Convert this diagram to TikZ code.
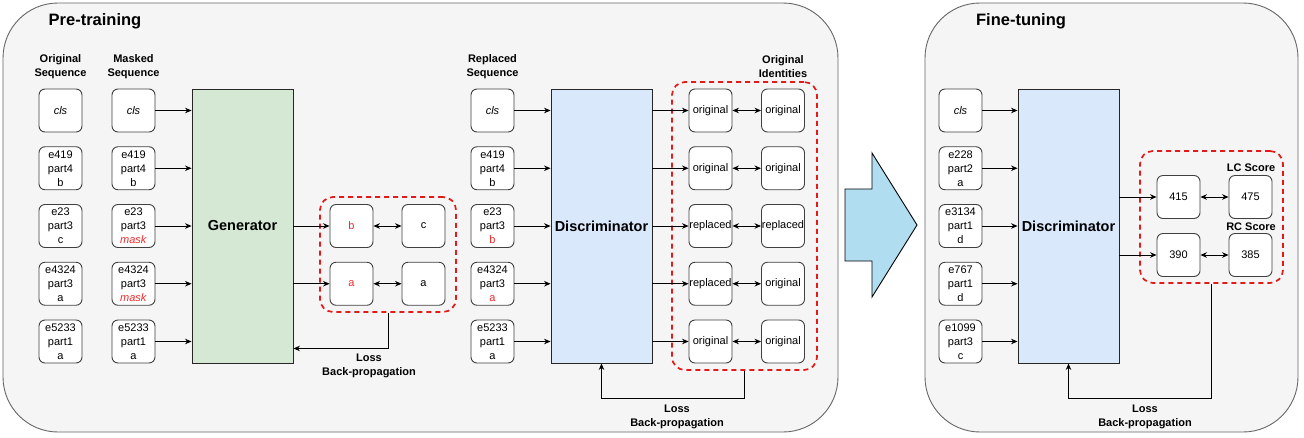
\documentclass[tikz,border=0pt]{standalone}
\usepackage{fontspec}
\setmainfont{Liberation Sans}
\usetikzlibrary{arrows.meta}

\definecolor{panelfill}{HTML}{F5F5F5}
\definecolor{panelline}{HTML}{666666}
\definecolor{genfill}{HTML}{D5E8D4}
\definecolor{discfill}{HTML}{DAE8FC}
\definecolor{bigarrow}{HTML}{B1DDF0}
\definecolor{dashred}{HTML}{E31A1A}
\definecolor{txtred}{HTML}{EE2C2C}

\begin{document}
\begin{tikzpicture}[x=1pt,y=-1pt,
    panel/.style={draw=panelline, fill=panelfill, rounded corners=55pt, line width=0.9pt},
    title/.style={font=\bfseries\fontsize{16.5}{18}\selectfont},
    hdr/.style={font=\bfseries\fontsize{11}{14}\selectfont, align=center},
    tok/.style={draw=black!75, fill=white, rounded corners=6pt, line width=0.9pt,
        minimum width=43pt, minimum height=43pt, inner sep=0pt, align=center,
        font=\fontsize{11}{14}\selectfont},
    model/.style={draw=black!85, line width=0.9pt, minimum width=101pt, minimum height=274pt,
        font=\bfseries\fontsize{14.5}{16}\selectfont},
    grp/.style={draw=dashred, line width=1.7pt, dash pattern=on 5pt off 4pt, rounded corners=13pt},
    arr/.style={-{Stealth[length=6.5pt,width=5.5pt]}, line width=0.9pt},
    darr/.style={{Stealth[length=6.5pt,width=5.5pt]}-{Stealth[length=6.5pt,width=5.5pt]}, line width=0.9pt},
    lbl/.style={font=\bfseries\fontsize{11}{14}\selectfont, align=center}]
    \useasboundingbox (0,0) rectangle (1304,437);

    % Cadres
    \draw[panel] (3,3) rectangle (838,432);
    \draw[panel] (925,3) rectangle (1298,432);
    \node[title] (pretitle) at (95,21) {Pre-training};
    \node[title] (finetitle) at (1021,21) {Fine-tuning};

    % Pre-training : sequences et generateur
    \node[hdr] (hdro) at (60.5,67) {Original\\Sequence};
    \node[hdr] (hdrm) at (133.5,67) {Masked\\Sequence};
    \foreach \i/\y/\o/\m in {1/110.5/{\textit{cls}}/{\textit{cls}},
        2/168.25/{e419\\part4\\b}/{e419\\part4\\b},
        3/226/{e23\\part3\\c}/{e23\\part3\\\textcolor{txtred}{\textit{mask}}},
        4/283.75/{e4324\\part3\\a}/{e4324\\part3\\\textcolor{txtred}{\textit{mask}}},
        5/341.5/{e5233\\part1\\a}/{e5233\\part1\\a}} {
        \node[tok] (o\i) at (60.5,\y) {\o};
        \node[tok] (m\i) at (133.5,\y) {\m};
    }
    \node[model, fill=genfill] (gen) at (242.5,226) {Generator};
    \foreach \i in {1,...,5} {
        \draw[arr] (m\i) -- (m\i -| gen.west);
    }

    % Predictions du generateur
    \node[tok] (p1) at (351.5,226) {\textcolor{txtred}{b}};
    \node[tok] (q1) at (423.5,226) {c};
    \node[tok] (p2) at (351.5,283.75) {\textcolor{txtred}{a}};
    \node[tok] (q2) at (423.5,283.75) {a};
    \node[grp, minimum width=136pt, minimum height=115pt] (g1) at (388,254.5) {};
    \foreach \i in {1,2} {
        \draw[arr] (gen.east |- p\i) -- (p\i);
        \draw[darr] (p\i) -- (q\i);
    }
    \draw[arr] (g1.south) |- ([yshift=15pt]gen.south east);
    \node[lbl] (loss1) at (369,366) {Loss\\Back-propagation};

    % Pre-training : discriminateur
    \node[hdr] (hdrr) at (492.5,67) {Replaced\\Sequence};
    \node[hdr] (hdri) at (783,67) {Original\\Identities};
    \foreach \i/\y/\r/\a/\b in {1/110.5/{\textit{cls}}/original/original,
        2/168.25/{e419\\part4\\b}/original/original,
        3/226/{e23\\part3\\\textcolor{txtred}{b}}/replaced/replaced,
        4/283.75/{e4324\\part3\\\textcolor{txtred}{a}}/replaced/original,
        5/341.5/{e5233\\part1\\a}/original/original} {
        \node[tok] (r\i) at (492.5,\y) {\r};
        \node[tok] (i\i) at (710.5,\y) {\a};
        \node[tok] (j\i) at (783,\y) {\b};
    }
    \node[model, fill=discfill] (disc1) at (601.5,226) {Discriminator};
    \node[grp, minimum width=145pt, minimum height=288pt] (g2) at (744.5,226) {};
    \foreach \i in {1,...,5} {
        \draw[arr] (r\i) -- (r\i -| disc1.west);
        \draw[arr] (disc1.east |- i\i) -- (i\i);
        \draw[darr] (i\i) -- (j\i);
    }
    \draw[arr] (g2.south) -- ++(0,28) -| (disc1.south);
    \node[lbl] (loss2) at (677,417) {Loss\\Back-propagation};

    % Fleche vers le fine-tuning
    \draw[fill=bigarrow, line width=0.9pt] (845,189) -- (872,189) -- (872,153) -- (917,225)
        -- (872,297) -- (872,261) -- (845,261) -- cycle;

    % Fine-tuning
    \foreach \i/\y/\f in {1/110.5/{\textit{cls}},
        2/168.25/{e228\\part2\\a},
        3/226/{e3134\\part1\\d},
        4/283.75/{e767\\part1\\d},
        5/341.5/{e1099\\part3\\c}} {
        \node[tok] (f\i) at (960.5,\y) {\f};
    }
    \node[model, fill=discfill] (disc2) at (1068.5,226) {Discriminator};
    \foreach \i in {1,...,5} {
        \draw[arr] (f\i) -- (f\i -| disc2.west);
    }
    \node[tok] (s1) at (1178.5,197) {415};
    \node[tok] (t1) at (1250.5,197) {475};
    \node[tok] (s2) at (1178.5,255) {390};
    \node[tok] (t2) at (1250.5,255) {385};
    \node[lbl] (lc) at (1251,168) {LC Score};
    \node[lbl] (rc) at (1251,227) {RC Score};
    \node[grp, minimum width=143pt, minimum height=132pt] (g3) at (1211.5,217) {};
    \foreach \i in {1,2} {
        \draw[arr] (disc2.east |- s\i) -- (s\i);
        \draw[darr] (s\i) -- (t\i);
    }
    \draw[arr] (g3.south) -- ++(0,115) -| (disc2.south);
    \node[lbl] (loss3) at (1145,417) {Loss\\Back-propagation};
\end{tikzpicture}
\end{document}
